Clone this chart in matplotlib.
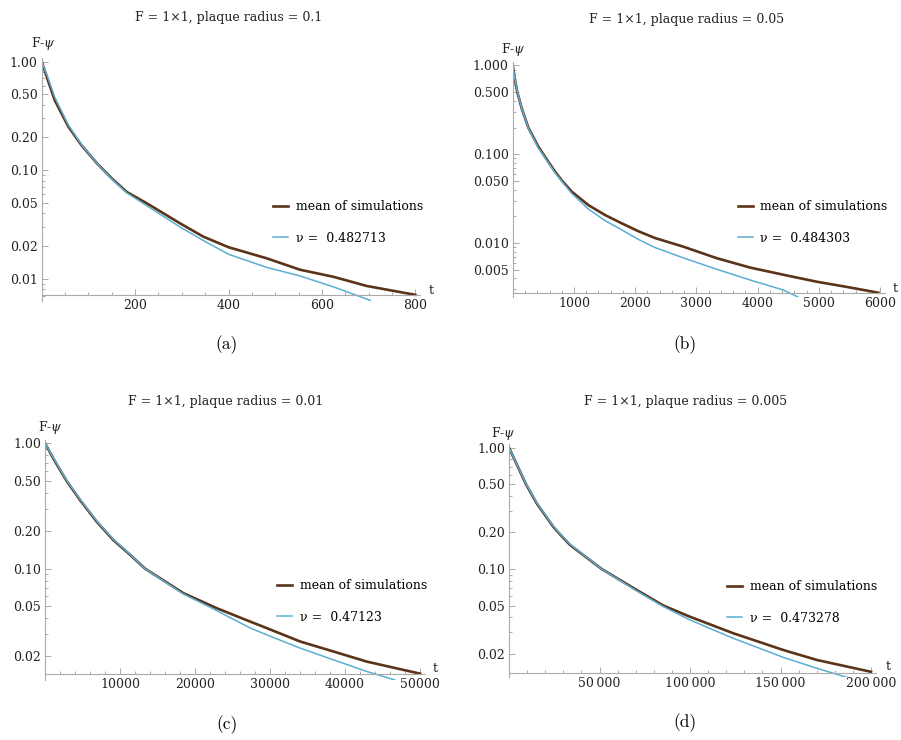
import numpy as np
import matplotlib
matplotlib.use("Agg")
import matplotlib.pyplot as plt
from matplotlib.ticker import FixedLocator, FixedFormatter, NullFormatter

plt.rcParams['font.family'] = ['DejaVu Serif']
plt.rcParams['mathtext.fontset'] = 'dejavuserif'

BROWN = '#5b3318'
BLUE = '#5aaed3'
GREY = '#aaaaaa'

# ---- data ----
# (a) plaque radius 0.1
t_mean_a = [0, 14, 28, 57, 85, 118, 150, 182, 225, 296, 346, 400, 482, 553, 625, 696, 800]
mean_a = [1.0, 0.66, 0.44, 0.252, 0.17, 0.116, 0.084, 0.063, 0.0495, 0.0324, 0.0244,
          0.0195, 0.0154, 0.0121, 0.0104, 0.00857, 0.0071]
t_fit_a = [0, 14, 28, 57, 85, 118, 150, 182, 225, 296, 346, 400, 482, 553, 625, 704]
fit_a = [1.0, 0.70, 0.47, 0.26, 0.172, 0.116, 0.083, 0.062, 0.047, 0.030, 0.0225,
         0.0168, 0.0127, 0.0106, 0.0084, 0.0063]
nu_a = '0.482713'

# (b) plaque radius 0.05
t_mean_b = [0, 30, 74, 145, 253, 417, 499, 690, 809, 962, 1234, 1507, 1779, 2051, 2324,
            2788, 3332, 3876, 4420, 4966, 5510, 5972]
mean_b = [1.0, 0.72, 0.5, 0.33, 0.2, 0.122, 0.1, 0.0637, 0.05, 0.038, 0.0268, 0.0207,
          0.0167, 0.0136, 0.0114, 0.0091, 0.00676, 0.0053, 0.0044, 0.00367, 0.00316,
          0.00276]
t_fit_b = [0, 30, 74, 145, 253, 417, 499, 690, 809, 962, 1234, 1507, 1779, 2051, 2324,
           2788, 3332, 3876, 4420, 4665]
fit_b = [1.0, 0.73, 0.51, 0.33, 0.198, 0.118, 0.098, 0.062, 0.049, 0.0363, 0.0242,
         0.0179, 0.0141, 0.011, 0.0089, 0.0068, 0.00507, 0.00384, 0.00296, 0.00246]
nu_b = '0.484303'

# (c) plaque radius 0.01
t_mean_c = [0, 1200, 2890, 4667, 6890, 9107, 11333, 13333, 18440, 22893, 27333, 29560,
            34000, 38440, 42890, 50000]
mean_c = [1.0, 0.74, 0.5, 0.353, 0.237, 0.169, 0.129, 0.1, 0.0637, 0.0483, 0.0378,
          0.0335, 0.0262, 0.0218, 0.0181, 0.0145]
t_fit_c = [0, 1200, 2890, 4667, 6890, 9107, 11333, 13333, 18440, 22893, 27333, 29560,
           34000, 38440, 42890, 46667]
fit_c = [1.0, 0.75, 0.505, 0.358, 0.24, 0.171, 0.13, 0.1, 0.0628, 0.0462, 0.0336,
         0.0296, 0.0232, 0.0187, 0.0151, 0.0129]
nu_c = '0.47123'

# (d) plaque radius 0.005
t_mean_d = [0, 9390, 15300, 24480, 27250, 33700, 51200, 70550, 85250, 100000,
            124000, 151500, 170000, 200000]
mean_d = [1.0, 0.5, 0.348, 0.223, 0.2, 0.158, 0.1, 0.0671, 0.05, 0.0404, 0.0295,
          0.0215, 0.0178, 0.0142]
t_fit_d = [0, 9390, 15300, 24480, 27250, 33700, 51200, 70550, 85250, 100000,
           124000, 151500, 170000, 186600]
fit_d = [1.0, 0.505, 0.352, 0.226, 0.202, 0.16, 0.1, 0.066, 0.049, 0.038, 0.0268,
         0.0187, 0.0152, 0.0128]
nu_d = '0.473278'

radii = ['0.1', '0.05', '0.01', '0.005']
captions = ['(a)', '(b)', '(c)', '(d)']

xticks_a = [200, 400, 600, 800]
xticks_b = [1000, 2000, 3000, 4000, 5000, 6000]
xticks_c = [10000, 20000, 30000, 40000, 50000]
xticks_d = [50000, 100000, 150000, 200000]
xlabels_a = ['200', '400', '600', '800']
xlabels_b = ['1000', '2000', '3000', '4000', '5000', '6000']
xlabels_c = ['10000', '20000', '30000', '40000', '50000']
xlabels_d = ['50\u2009000', '100\u2009000', '150\u2009000', '200\u2009000']

yticks_a = [1.0, 0.5, 0.2, 0.1, 0.05, 0.02, 0.01]
ylabels_a = ['1.00', '0.50', '0.20', '0.10', '0.05', '0.02', '0.01']
yticks_b = [1.0, 0.5, 0.1, 0.05, 0.01, 0.005]
ylabels_b = ['1.000', '0.500', '0.100', '0.050', '0.010', '0.005']
yticks_c = [1.0, 0.5, 0.2, 0.1, 0.05, 0.02]
ylabels_c = ['1.00', '0.50', '0.20', '0.10', '0.05', '0.02']

W, H = 901, 740


def px(x, y):
    return x / W, 1 - y / H


# layout in pixels of the reference picture
panels = [
    dict(t_mean=t_mean_a, mean=mean_a, t_fit=t_fit_a, fit=fit_a, nu=nu_a,
         rect=(41.7, 58, 420, 300.7), xmax=810, ylim=(0.00627, 1.08), yaxis=0.0071,
         xt=xticks_a, xl=xlabels_a, xminor=50, yt=yticks_a, yl=ylabels_a,
         title=(229, 18), fpsi=(43, 43), tlab=(431, 291), leg=(273, 208), cap=(227, 345)),
    dict(t_mean=t_mean_b, mean=mean_b, t_fit=t_fit_b, fit=fit_b, nu=nu_b,
         rect=(512.8, 62, 885, 297.3), xmax=6082, ylim=(0.00245, 1.095), yaxis=0.00272,
         xt=xticks_b, xl=xlabels_b, xminor=200, yt=yticks_b, yl=ylabels_b,
         title=(687, 20), fpsi=(513, 50), tlab=(895, 288), leg=(738, 208), cap=(685, 345)),
    dict(t_mean=t_mean_c, mean=mean_c, t_fit=t_fit_c, fit=fit_c, nu=nu_c,
         rect=(45, 440, 425, 680), xmax=50667, ylim=(0.0129, 1.063), yaxis=0.01439,
         xt=xticks_c, xl=xlabels_c, xminor=2000, yt=yticks_c, yl=ylabels_c,
         title=(226, 401), fpsi=(50, 427), tlab=(435, 669), leg=(277, 587), cap=(227, 725)),
    dict(t_mean=t_mean_d, mean=mean_d, t_fit=t_fit_d, fit=fit_d, nu=nu_d,
         rect=(509, 444, 876, 677.3), xmax=202762, ylim=(0.0128, 1.073), yaxis=0.01396,
         xt=xticks_d, xl=xlabels_d, xminor=10000, yt=yticks_c, yl=ylabels_c,
         title=(686, 401), fpsi=(503, 433), tlab=(888, 667), leg=(727, 588), cap=(685, 723)),
]

fig = plt.figure(figsize=(W / 100, H / 100), dpi=100)

for i, p in enumerate(panels):
    x0, y0, x1, y1 = p['rect']
    ax = fig.add_axes([x0 / W, 1 - y1 / H, (x1 - x0) / W, (y1 - y0) / H])
    ax.set_yscale('log')
    ax.set_xlim(0, p['xmax'])
    ax.set_ylim(*p['ylim'])

    l1, = ax.plot(p['t_mean'], p['mean'], color=BROWN, lw=1.9, solid_joinstyle='round')
    l2, = ax.plot(p['t_fit'], p['fit'], color=BLUE, lw=1.1, solid_joinstyle='round')

    for s in ['top', 'right']:
        ax.spines[s].set_visible(False)
    ax.spines['left'].set_position(('data', 0))
    ax.spines['bottom'].set_position(('data', p['yaxis']))
    for s in ['left', 'bottom']:
        ax.spines[s].set_color(GREY)
        ax.spines[s].set_linewidth(0.8)

    ax.xaxis.set_major_locator(FixedLocator(p['xt']))
    ax.xaxis.set_major_formatter(FixedFormatter(p['xl']))
    ax.xaxis.set_minor_locator(FixedLocator(np.arange(p['xminor'], p['xmax'], p['xminor'])))
    ax.yaxis.set_major_locator(FixedLocator(p['yt']))
    ax.yaxis.set_major_formatter(FixedFormatter(p['yl']))
    minors = [k * 10.0 ** e for e in range(-4, 1) for k in range(1, 10)]
    minors = [m for m in minors if m not in p['yt']]
    ax.yaxis.set_minor_locator(FixedLocator(minors))
    ax.yaxis.set_minor_formatter(NullFormatter())
    ax.tick_params(which='both', direction='in', color=GREY, labelsize=9,
                   labelcolor='#222222', width=0.7)
    ax.tick_params(which='major', length=4, pad=3)
    ax.tick_params(which='minor', length=2)

    lx, ly = p['leg']
    ax.legend([l1, l2], ['mean of simulations', 'ν =  ' + p['nu']],
              loc='upper left', bbox_to_anchor=px(lx, ly - 8),
              bbox_transform=fig.transFigure, frameon=False, fontsize=9,
              handlelength=1.2, handletextpad=0.6, labelspacing=1.5,
              borderpad=0, borderaxespad=0)

    fig.text(*px(*p['title']), 'F = 1×1, plaque radius = ' + radii[i],
             ha='center', va='center', fontsize=9, color='#222222')
    fig.text(*px(*p['fpsi']), r'F-$\psi$', ha='center', va='center', fontsize=9,
             color='#222222')
    fig.text(*px(*p['tlab']), 't', ha='center', va='center', fontsize=9, color='#222222')
    fig.text(*px(*p['cap']), captions[i], ha='center', va='center', fontsize=12.5,
             family='cmr10')

fig.savefig('out.png', dpi=100)
